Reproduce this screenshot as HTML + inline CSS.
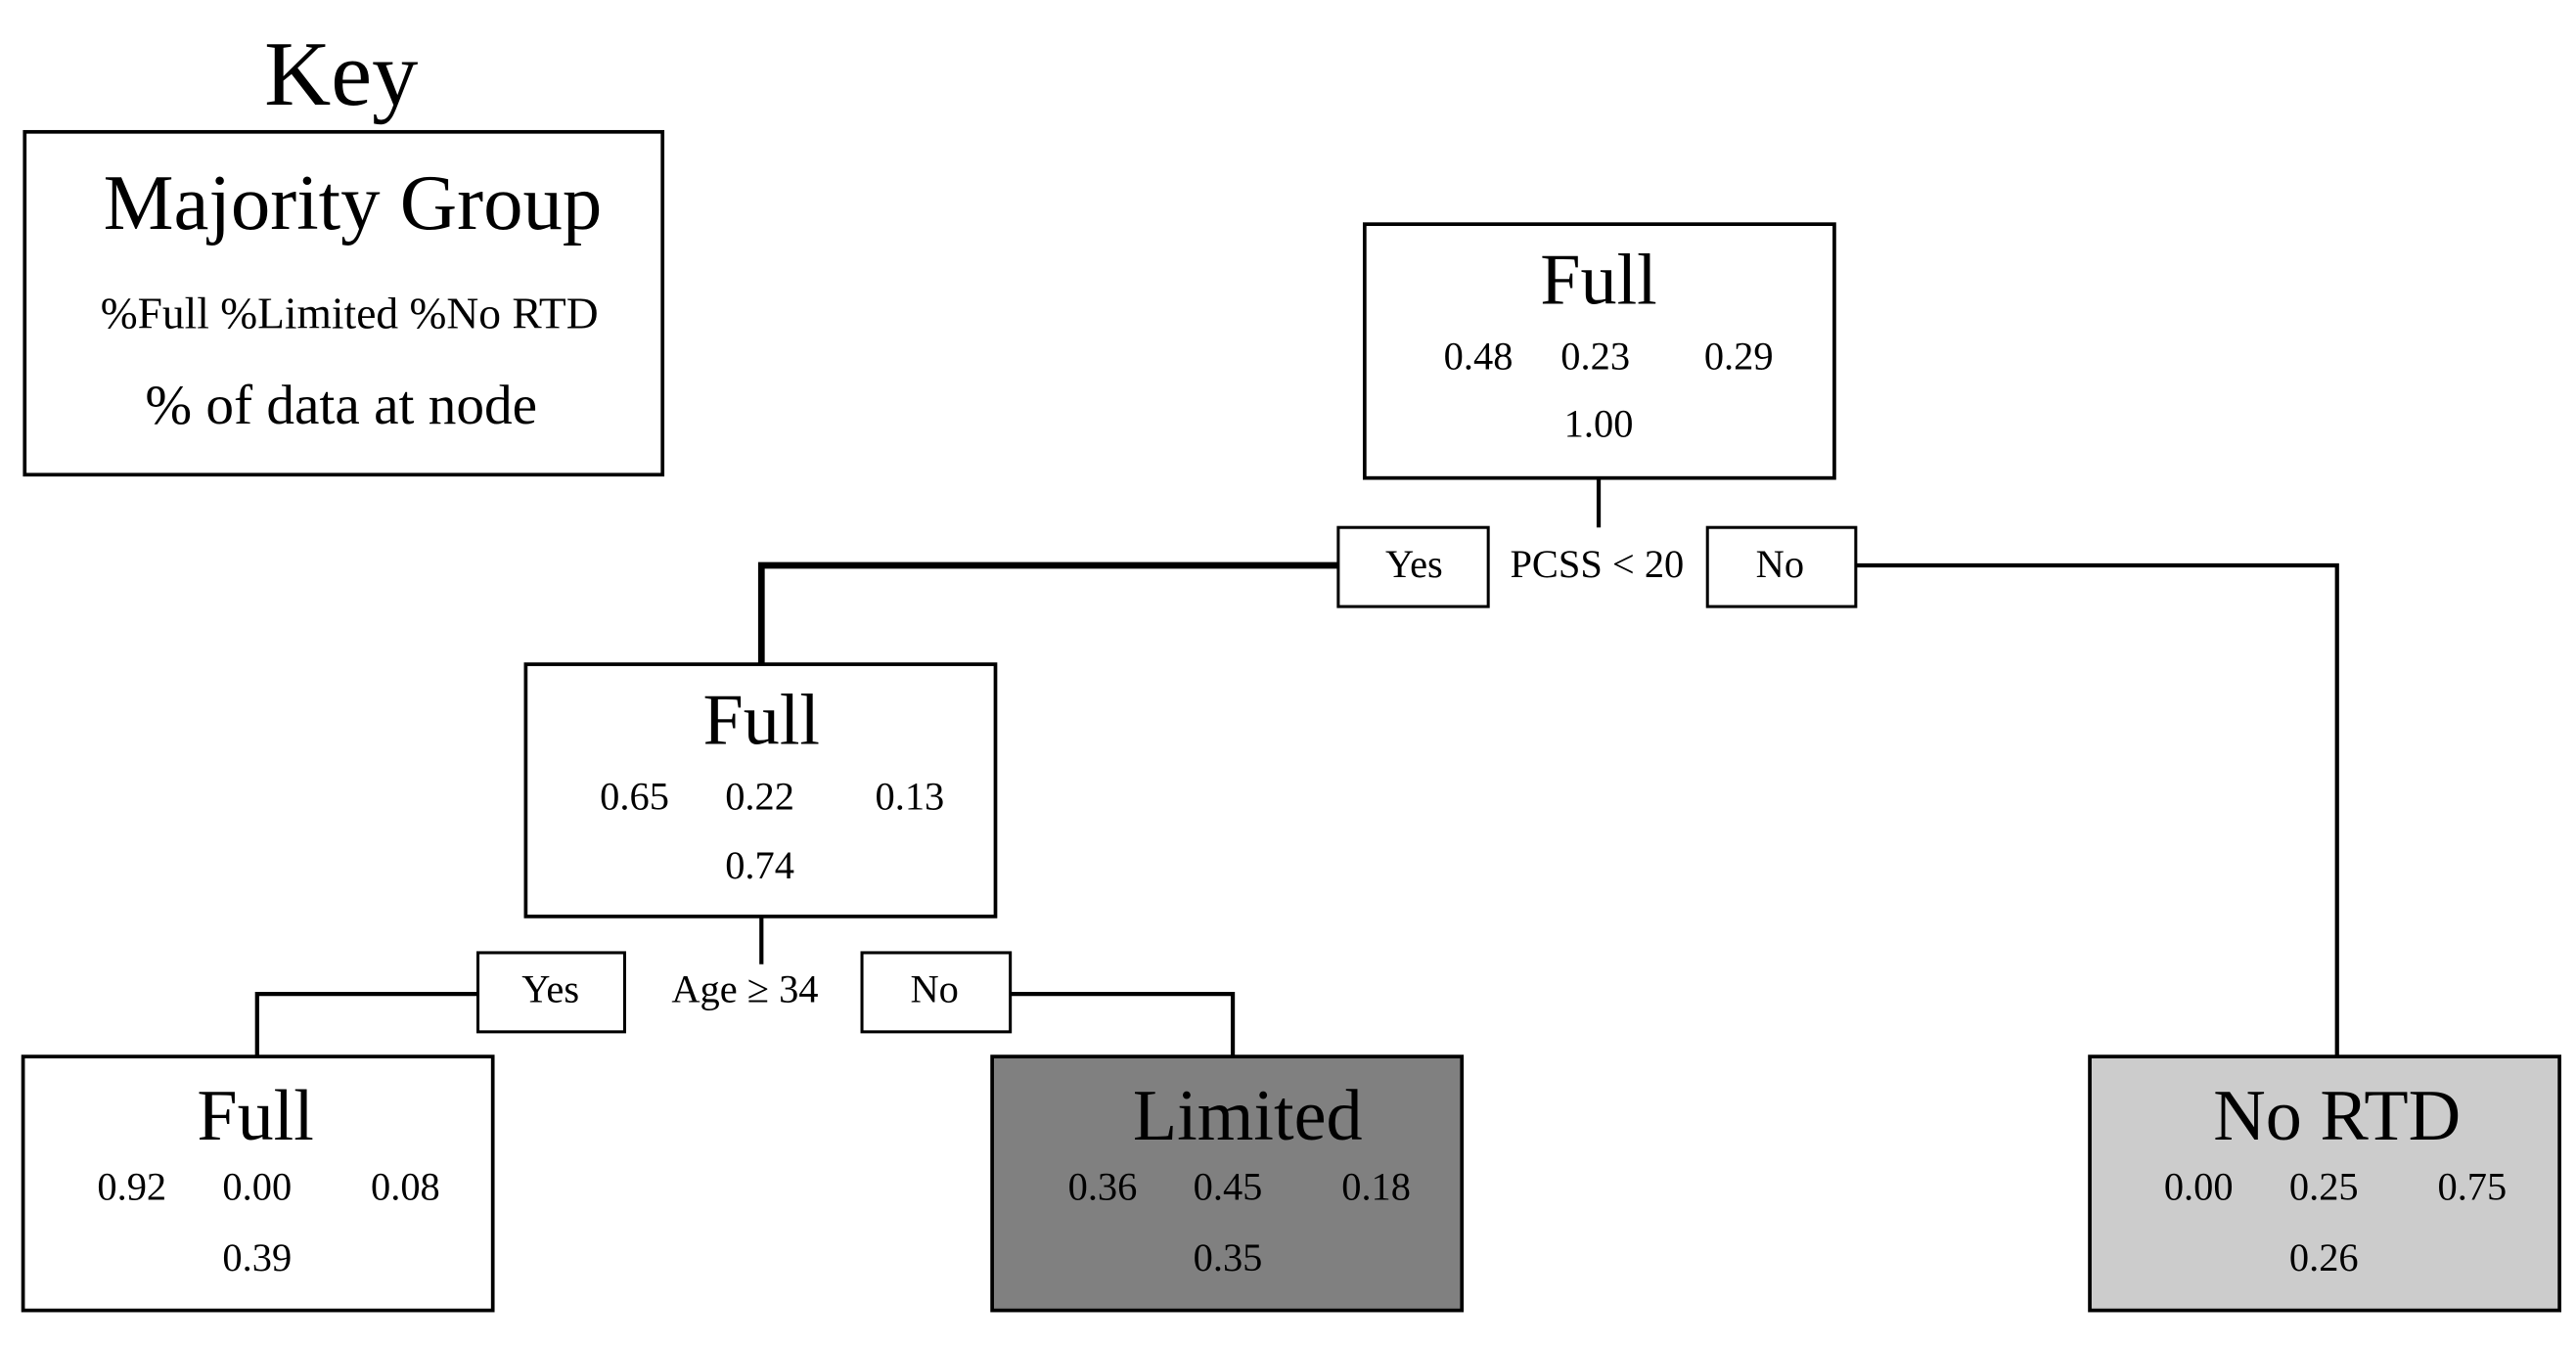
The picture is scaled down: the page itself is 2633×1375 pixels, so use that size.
<!DOCTYPE html>
<html><head><meta charset="utf-8"><style>
html,body{margin:0;padding:0;background:#fff;}
svg{display:block;}
text{font-family:"Liberation Serif",serif;fill:#000;}
</style></head><body>
<svg width="2633" height="1375" viewBox="0 0 1563 816" preserveAspectRatio="none" xmlns="http://www.w3.org/2000/svg">
<rect width="1563" height="816" fill="#fff"/>
<g text-anchor="middle" dominant-baseline="central">
<text x="207" y="45" font-size="56">Key</text>
<rect x="15" y="80" width="387" height="208" fill="#fff" stroke="#000" stroke-width="2.2"/>
<text x="214" y="123" font-size="48">Majority Group</text>
<text x="212" y="190" font-size="27">%Full   %Limited %No RTD</text>
<text x="207" y="246" font-size="34">% of data at node</text>
</g>
<g fill="none" stroke="#000">
<line x1="970" y1="290" x2="970" y2="320" stroke-width="2.5"/>
<polyline points="812,343 462,343 462,403" stroke-width="4"/>
<polyline points="1126,343 1418,343 1418,641" stroke-width="2.5"/>
<line x1="462" y1="556" x2="462" y2="585" stroke-width="2.5"/>
<polyline points="290,603 156,603 156,641" stroke-width="2.5"/>
<polyline points="613,603 748,603 748,641" stroke-width="2.5"/>
</g>
<g stroke="#000" stroke-width="2.2">
<rect x="828" y="136" width="285" height="154" fill="#fff"/>
<rect x="319" y="403" width="285" height="153" fill="#fff"/>
<rect x="14" y="641" width="285" height="154" fill="#fff"/>
<rect x="602" y="641" width="285" height="154" fill="#808080"/>
<rect x="1268" y="641" width="285" height="154" fill="#cccccc"/>
<rect x="812" y="320" width="91" height="48" fill="#fff" stroke-width="1.8"/>
<rect x="1036" y="320" width="90" height="48" fill="#fff" stroke-width="1.8"/>
<rect x="290" y="578" width="89" height="48" fill="#fff" stroke-width="1.8"/>
<rect x="523" y="578" width="90" height="48" fill="#fff" stroke-width="1.8"/>
</g>
<g text-anchor="middle" dominant-baseline="central" font-size="24">
<text x="858" y="342">Yes</text>
<text x="969" y="342">PCSS &lt; 20</text>
<text x="1080" y="342">No</text>
<text x="334" y="600">Yes</text>
<text x="452" y="600">Age ≥ 34</text>
<text x="567" y="600">No</text>

<text x="970" y="170" font-size="44">Full</text>
<text x="897" y="216">0.48</text><text x="968" y="216">0.23</text><text x="1055" y="216">0.29</text>
<text x="970" y="257">1.00</text>

<text x="462" y="437" font-size="44">Full</text>
<text x="385" y="483">0.65</text><text x="461" y="483">0.22</text><text x="552" y="483">0.13</text>
<text x="461" y="525">0.74</text>

<text x="155" y="677" font-size="44">Full</text>
<text x="80" y="720">0.92</text><text x="156" y="720">0.00</text><text x="246" y="720">0.08</text>
<text x="156" y="763">0.39</text>

<text x="757" y="677" font-size="44">Limited</text>
<text x="669" y="720">0.36</text><text x="745" y="720">0.45</text><text x="835" y="720">0.18</text>
<text x="745" y="763">0.35</text>

<text x="1418" y="677" font-size="44">No RTD</text>
<text x="1334" y="720">0.00</text><text x="1410" y="720">0.25</text><text x="1500" y="720">0.75</text>
<text x="1410" y="763">0.26</text>
</g>
</svg>
</body></html>
